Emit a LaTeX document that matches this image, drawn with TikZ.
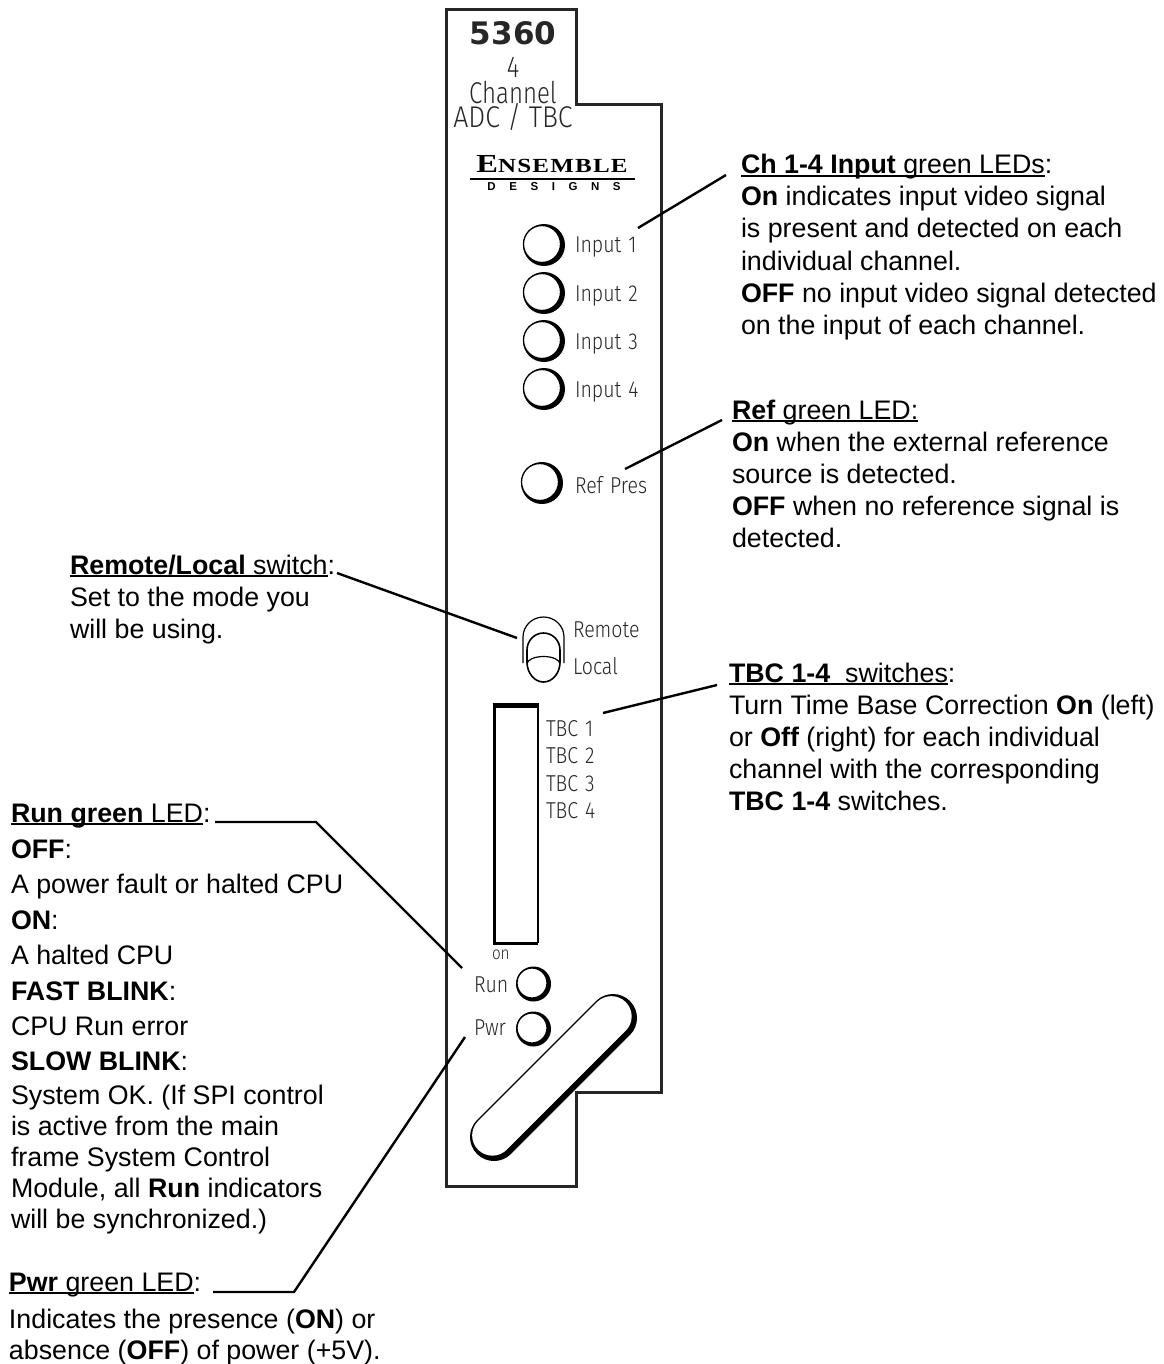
\documentclass[tikz,border=0pt]{standalone}
\usepackage{fontspec}
\setmainfont{Liberation Sans}
\newfontfamily\panelfont[FakeStretch=0.85,Numbers=Lining,WordSpace=1.3]{Fira Sans Light}
\newfontfamily\chanfont[FakeStretch=0.8,Numbers=Lining]{Fira Sans Light}
\newfontfamily\wideptfont[FakeStretch=0.89,Numbers=Lining]{Fira Sans Light}
\newfontfamily\numfont{DejaVu Sans}
\newfontfamily\logofont[FakeStretch=1.25]{Liberation Serif}
\newcommand{\ulin}[1]{\setbox0\hbox{#1}\rlap{\rule[-2.8pt]{\wd0}{1.4pt}}\box0}
\tikzset{
  note/.style={anchor=base west,inner sep=0pt,outer sep=0pt,font=\fontsize{26.8}{30}\selectfont},
  plabel/.style={anchor=base west,inner sep=0pt,outer sep=0pt,font=\panelfont\fontsize{23}{26}\selectfont,text=black!85},
  ptitle/.style={anchor=base,inner sep=0pt,outer sep=0pt,font=\chanfont\fontsize{30}{30}\selectfont,text=black!85},
  leader/.style={line width=2.4pt,line join=miter},
  panel/.style={line width=3pt,draw=black!85,line join=miter},
  ledtop/.style={circle,draw=black,line width=1.3pt,fill=white,inner sep=0pt,outer sep=0pt},
  ledshadow/.style={circle,fill=black,inner sep=0pt,outer sep=0pt},
}
\newcommand{\bigled}[3]{%
  \node[ledshadow,minimum size=42pt] (#1s) at (#2+1,#3) {};
  \node[ledtop,minimum size=37pt] (#1) at (#2-1,#3-1) {};}
\newcommand{\smallled}[3]{%
  \node[ledshadow,minimum size=35pt] (#1s) at (#2+0.5,#3) {};
  \node[ledtop,minimum size=30pt] (#1) at (#2-1,#3-1) {};}
\begin{document}
\begin{tikzpicture}[x=1pt,y=-1pt]
\useasboundingbox (0,0) rectangle (1163,1364);
% panel
\draw[panel] (446,10) -- (576,10) -- (576,105) -- (661,105) -- (661,1092) -- (576,1092) -- (576,1186) -- (446,1186) -- cycle;
% title
\node[anchor=base,inner sep=0pt,font=\numfont\bfseries\fontsize{31}{31}\selectfont,text=black!85] (model) at (513,45) {5360};
\node[ptitle] (tfour) at (513,78) {4};
\node[ptitle] (tchan) at (513,104) {Channel};
\node[ptitle,font=\wideptfont\fontsize{30}{30}\selectfont] (tadc) at (513,128) {ADC / TBC};
% logo
\node[anchor=base,inner sep=0pt,font=\logofont\bfseries\fontsize{20}{20}\selectfont] (logoa) at (552,173) {\addfontfeature{LetterSpace=6}{\fontsize{26}{26}\selectfont E}NSEMBLE};
\draw[line width=1.8pt] (470,179) -- (635,179);
\node[anchor=base,inner sep=0pt,font=\bfseries\fontsize{11.5}{11.5}\selectfont] (logob) at (554,191) {\addfontfeature{LetterSpace=118}DESIGNS};
% input LEDs
\bigled{ledA}{543}{245}
\bigled{ledB}{543}{293}
\bigled{ledC}{543}{341}
\bigled{ledD}{543}{389}
\bigled{ledR}{541}{483}
\node[plabel] (lA) at (575,253) {Input 1};
\node[plabel] (lB) at (575,301) {Input 2};
\node[plabel] (lC) at (575,349) {Input 3};
\node[plabel] (lD) at (575,397) {Input 4};
\node[plabel] (lR) at (575,493) {Ref Pres};
% switch
\draw[line width=1.2pt] (523,663) -- (523,637) arc[start angle=180,end angle=360,x radius=20.5,y radius=20] -- (564,663);
\draw[line width=1.6pt,fill=white] (527,662) -- (527,650) arc[start angle=180,end angle=360,x radius=16.5,y radius=17] -- (560,662) arc[start angle=0,end angle=180,x radius=16.5,y radius=20] -- cycle;
\draw[line width=1.2pt] (527,664) arc[start angle=180,end angle=360,x radius=16.5,y radius=7.5];
\node[plabel] (lRem) at (573,637) {Remote};
\node[plabel] (lLoc) at (573,674) {Local};
% TBC switch block
\draw[line width=1.8pt] (538,705) -- (538,943);
\draw[line width=3pt] (494,704) -- (494,943) -- (538,943);
\draw[line width=5pt] (492.5,705) -- (539,705);
\node[plabel] (lT1) at (546,736) {TBC 1};
\node[plabel] (lT2) at (546,763) {TBC 2};
\node[plabel] (lT3) at (546,791) {TBC 3};
\node[plabel] (lT4) at (546,818) {TBC 4};
\node[plabel,font=\panelfont\fontsize{18}{20}\selectfont] (lOn) at (492,959) {on};
% run pwr
\smallled{ledRun}{533}{984}
\smallled{ledPwr}{533}{1029}
\node[plabel] (lRun) at (474,992) {Run};
\node[plabel] (lPwr) at (474,1035) {Pwr};
% handle
\coordinate (hA) at (494,1137);
\coordinate (hB) at (613,1018);
\draw[line width=48pt,line cap=round] (hA) -- (hB);
\draw[line width=40.5pt,line cap=round,white] ([shift={(-1.6,-1.6)}]hA) -- ([shift={(-1.6,-1.6)}]hB);
% text right
\newcommand{\tl}[4]{\node[note] (#1) at (#2,#3) {#4};}
\tl{a1}{741}{174}{\ulin{\textbf{Ch 1-4 Input} green LEDs}:}
\tl{a2}{741}{206}{\textbf{On} indicates input video signal}
\tl{a3}{741}{238}{is present and detected on each}
\tl{a4}{741}{270}{individual channel.}
\tl{a5}{741}{302}{\textbf{OFF} no input video signal detected}
\tl{a6}{741}{334}{on the input of each channel.}
\tl{b1}{732}{419}{\ulin{\textbf{Ref} green LED:}}
\tl{b2}{732}{451}{\textbf{On} when the external reference}
\tl{b3}{732}{483}{source is detected.}
\tl{b4}{732}{515}{\textbf{OFF} when no reference signal is}
\tl{b5}{732}{547}{detected.}
\tl{c1}{729}{682}{\ulin{\textbf{TBC 1-4}\ \ switches}:}
\tl{c2}{729}{714}{Turn Time Base Correction \textbf{On} (left)}
\tl{c3}{729}{746}{or \textbf{Off} (right) for each individual}
\tl{c4}{729}{778}{channel with the corresponding}
\tl{c5}{729}{810}{\textbf{TBC 1-4} switches.}
% text left
\tl{d1}{70}{574}{\ulin{\textbf{Remote/Local} switch}:}
\tl{d2}{70}{606}{Set to the mode you}
\tl{d3}{70}{638}{will be using.}
\tl{e1}{11}{822}{\ulin{\textbf{Run green} LED}:}
\tl{e2}{11}{858}{\textbf{OFF}:}
\tl{e3}{11}{893}{A power fault or halted CPU}
\tl{e4}{11}{929}{\textbf{ON}:}
\tl{e5}{11}{964}{A halted CPU}
\tl{e6}{11}{1000}{\textbf{FAST BLINK}:}
\tl{e7}{11}{1035}{CPU Run error}
\tl{e8}{11}{1070}{\textbf{SLOW BLINK}:}
\tl{e9}{11}{1104}{System OK. (If SPI control}
\tl{e10}{11}{1135}{is active from the main}
\tl{e11}{11}{1166}{frame System Control}
\tl{e12}{11}{1197}{Module, all \textbf{Run} indicators}
\tl{e13}{11}{1228}{will be synchronized.)}
\tl{f1}{9}{1291}{\ulin{\textbf{Pwr} green LED}:}
\tl{f2}{9}{1328}{Indicates the presence (\textbf{ON}) or}
\tl{f3}{9}{1359}{absence (\textbf{OFF}) of power (+5V).}
% leaders
\coordinate (q1a) at (638,228); \coordinate (q1b) at (726,175);
\coordinate (q2a) at (625,469); \coordinate (q2b) at (722,420);
\coordinate (q3a) at (337,573); \coordinate (q3b) at (517,638);
\coordinate (q4a) at (603,713); \coordinate (q4b) at (717,685);
\coordinate (q5a) at (215,822); \coordinate (q5b) at (316,822); \coordinate (q5c) at (462,968);
\coordinate (q6a) at (213,1292); \coordinate (q6b) at (294,1292); \coordinate (q6c) at (465,1037);
\draw[leader] (q1a) -- (q1b);
\draw[leader] (q2a) -- (q2b);
\draw[leader] (q3a) -- (q3b);
\draw[leader] (q4a) -- (q4b);
\draw[leader] (q5a) -- (q5b) -- (q5c);
\draw[leader] (q6a) -- (q6b) -- (q6c);
\end{tikzpicture}
\end{document}
